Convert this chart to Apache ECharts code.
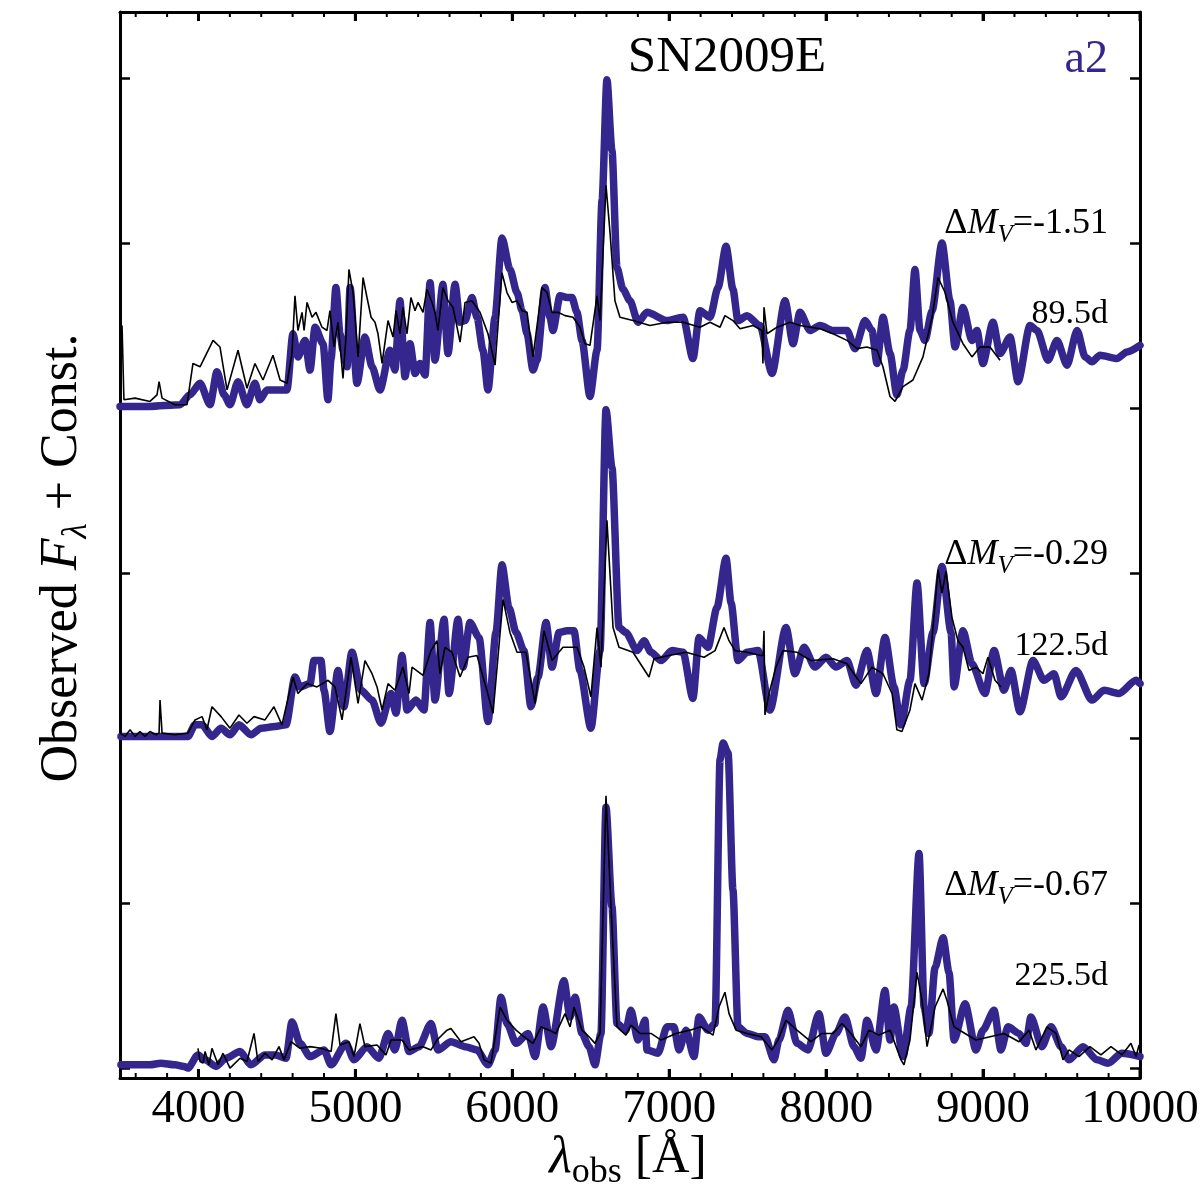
<!DOCTYPE html>
<html><head><meta charset="utf-8">
<script src="https://cdn.jsdelivr.net/npm/echarts@6/dist/echarts.min.js"></script>
<style>html,body{margin:0;padding:0;background:#fff}#c{width:1200px;height:1200px}</style>
</head><body><div id="c"></div>
<script>
// ---- tick labels / axis values ----
const xMin = 3500, xMax = 10000;
const xMajorStart = 4000, xMajorStep = 1000;   // labelled ticks 4000 ... 10000
const xMajorTicks = [4000, 5000, 6000, 7000, 8000, 9000, 10000];
const xMinorTicks = [3600, 3800, 4200, 4400, 4600, 4800, 5200, 5400, 5600, 5800, 6200, 6400, 6600, 6800,
  7200, 7400, 7600, 7800, 8200, 8400, 8600, 8800, 9200, 9400, 9600, 9800];
const yTicks = [0, 1, 2, 3, 4, 5, 6];
const yMin = -0.06, yMax = 6.4;
const offsets = [4, 2, 0];
const epochs = ['89.5d', '122.5d', '225.5d'];
const deltaMV = ['-1.51', '-0.29', '-0.67'];

// ---- spectra: [wavelength (Å), relative flux] ----
const model_89 = [[3500,0.01],[3691,0.01],[3882,0.02],[3946,0.08],[4010,0.15],[4074,0.02],[4118,0.22],[4163,0.08],[4201,0.02],[4252,0.16],[4309,0.02],[4360,0.15],[4392,0.05],[4437,0.11],[4520,0.11],[4564,0.11],[4602,0.45],[4634,0.31],[4679,0.41],[4711,0.23],[4743,0.49],[4794,0.39],[4825,0.05],[4845,0.30],[4876,0.73],[4902,0.45],[4921,0.35],[4947,0.25],[4966,0.73],[5010,0.15],[5061,0.43],[5106,0.25],[5157,0.11],[5221,0.35],[5252,0.23],[5284,0.65],[5316,0.19],[5348,0.39],[5380,0.21],[5412,0.27],[5444,0.20],[5476,0.76],[5507,0.29],[5558,0.75],[5590,0.33],[5635,0.75],[5667,0.52],[5699,0.53],[5743,0.67],[5775,0.55],[5813,0.35],[5845,0.11],[5890,0.55],[5934,1.03],[5985,0.84],[6030,0.70],[6062,0.59],[6094,0.45],[6132,0.23],[6157,0.29],[6208,0.73],[6240,0.55],[6259,0.47],[6304,0.68],[6349,0.67],[6380,0.67],[6412,0.58],[6444,0.41],[6495,0.07],[6540,0.35],[6572,1.26],[6603,1.99],[6635,1.56],[6667,0.85],[6705,0.72],[6750,0.65],[6801,0.52],[6858,0.58],[6986,0.53],[7088,0.55],[7151,0.30],[7196,0.59],[7260,0.55],[7311,0.73],[7362,0.98],[7406,0.72],[7438,0.53],[7496,0.56],[7578,0.50],[7655,0.21],[7738,0.65],[7789,0.39],[7833,0.58],[7897,0.47],[7961,0.50],[8044,0.47],[8133,0.47],[8184,0.36],[8248,0.53],[8292,0.47],[8324,0.27],[8362,0.55],[8407,0.33],[8451,0.08],[8490,0.23],[8534,0.47],[8566,0.84],[8598,0.47],[8630,0.41],[8675,0.59],[8738,1.00],[8789,0.65],[8821,0.37],[8872,0.61],[8929,0.41],[8961,0.47],[8999,0.27],[9063,0.52],[9108,0.33],[9172,0.43],[9223,0.16],[9299,0.50],[9344,0.47],[9414,0.29],[9471,0.41],[9535,0.26],[9599,0.47],[9650,0.31],[9694,0.28],[9745,0.32],[9853,0.30],[9917,0.34],[10000,0.38]];

const obs_89 = [[3500,0.05],[3513,0.50],[3525,0.05],[3596,0.06],[3691,0.04],[3736,0.08],[3749,0.16],[3768,0.06],[3850,0.02],[3927,0.02],[3965,0.27],[4010,0.25],[4093,0.41],[4137,0.37],[4182,0.11],[4252,0.35],[4309,0.12],[4360,0.27],[4411,0.17],[4475,0.32],[4520,0.17],[4564,0.15],[4596,0.33],[4615,0.68],[4634,0.47],[4660,0.58],[4673,0.47],[4692,0.64],[4724,0.55],[4749,0.58],[4787,0.49],[4819,0.47],[4838,0.59],[4864,0.37],[4889,0.52],[4921,0.18],[4940,0.43],[4959,0.84],[4985,0.70],[5017,0.31],[5049,0.79],[5074,0.67],[5100,0.55],[5125,0.52],[5144,0.45],[5170,0.27],[5208,0.53],[5240,0.43],[5259,0.59],[5284,0.45],[5303,0.61],[5329,0.45],[5354,0.67],[5380,0.59],[5399,0.64],[5431,0.58],[5456,0.72],[5488,0.64],[5507,0.58],[5526,0.47],[5558,0.73],[5590,0.65],[5622,0.61],[5667,0.40],[5699,0.64],[5743,0.65],[5794,0.58],[5845,0.45],[5890,0.26],[5934,0.82],[5966,0.70],[5998,0.64],[6030,0.65],[6062,0.59],[6094,0.58],[6132,0.31],[6189,0.73],[6221,0.70],[6253,0.58],[6291,0.58],[6336,0.56],[6387,0.55],[6431,0.49],[6463,0.39],[6495,0.38],[6540,0.68],[6559,0.53],[6597,1.35],[6623,1.06],[6654,0.65],[6686,0.55],[6769,0.53],[6877,0.50],[6986,0.52],[7088,0.52],[7196,0.49],[7260,0.52],[7324,0.49],[7355,0.56],[7406,0.53],[7451,0.48],[7534,0.50],[7591,0.47],[7597,0.27],[7604,0.61],[7623,0.45],[7687,0.49],[7770,0.52],[7833,0.50],[7961,0.48],[8044,0.45],[8133,0.41],[8197,0.36],[8260,0.37],[8324,0.35],[8362,0.25],[8407,0.07],[8439,0.04],[8490,0.13],[8553,0.17],[8617,0.31],[8675,0.55],[8713,0.79],[8758,0.70],[8808,0.52],[8872,0.39],[8929,0.31],[8980,0.37],[9044,0.37],[9108,0.29]];

const model_122 = [[3506,0.01],[3691,0.01],[3933,0.01],[3978,0.08],[4023,0.08],[4086,0.01],[4144,0.06],[4201,0.02],[4258,0.08],[4335,0.02],[4399,0.06],[4488,0.07],[4558,0.08],[4615,0.37],[4647,0.31],[4711,0.33],[4736,0.47],[4781,0.47],[4800,0.29],[4838,0.04],[4889,0.41],[4927,0.19],[4978,0.52],[5036,0.29],[5106,0.23],[5163,0.09],[5227,0.27],[5259,0.15],[5297,0.50],[5329,0.17],[5386,0.23],[5437,0.17],[5476,0.70],[5507,0.23],[5565,0.72],[5597,0.27],[5654,0.72],[5686,0.43],[5730,0.70],[5788,0.61],[5845,0.10],[5896,0.64],[5934,1.05],[5979,0.79],[6024,0.64],[6074,0.53],[6119,0.19],[6164,0.37],[6215,0.70],[6253,0.43],[6298,0.64],[6349,0.65],[6393,0.65],[6431,0.41],[6501,0.06],[6559,0.53],[6597,1.99],[6635,1.64],[6680,0.67],[6724,0.64],[6795,0.53],[6839,0.59],[6884,0.52],[6948,0.47],[7018,0.53],[7088,0.52],[7151,0.24],[7190,0.61],[7247,0.55],[7304,0.79],[7362,1.09],[7394,0.82],[7438,0.47],[7496,0.52],[7566,0.53],[7642,0.17],[7744,0.67],[7801,0.39],[7859,0.55],[7929,0.43],[7999,0.49],[8063,0.43],[8133,0.47],[8190,0.32],[8260,0.53],[8318,0.27],[8375,0.61],[8432,0.31],[8477,0.08],[8534,0.35],[8579,0.94],[8624,0.33],[8681,0.64],[8738,1.04],[8796,0.64],[8815,0.31],[8872,0.65],[8929,0.45],[9012,0.27],[9070,0.53],[9133,0.29],[9178,0.41],[9235,0.16],[9318,0.47],[9388,0.35],[9452,0.39],[9497,0.25],[9592,0.41],[9694,0.23],[9771,0.29],[9866,0.27],[9975,0.35],[10000,0.33]];

const obs_122 = [[3500,0.03],[3532,0.01],[3564,0.05],[3596,0.01],[3627,0.04],[3659,0.01],[3691,0.04],[3729,0.02],[3749,0.03],[3755,0.23],[3768,0.03],[3850,0.02],[3933,0.03],[3978,0.11],[4023,0.13],[4054,0.05],[4086,0.19],[4144,0.13],[4201,0.06],[4258,0.14],[4309,0.09],[4354,0.13],[4424,0.11],[4481,0.19],[4532,0.08],[4602,0.37],[4634,0.27],[4692,0.33],[4755,0.31],[4826,0.35],[4870,0.31],[4915,0.11],[4972,0.49],[5017,0.21],[5061,0.47],[5106,0.39],[5138,0.31],[5170,0.17],[5208,0.33],[5252,0.29],[5303,0.43],[5342,0.27],[5361,0.43],[5431,0.38],[5482,0.53],[5520,0.59],[5539,0.39],[5571,0.55],[5616,0.52],[5667,0.37],[5718,0.49],[5775,0.50],[5832,0.31],[5877,0.15],[5941,0.84],[5985,0.64],[6030,0.52],[6087,0.52],[6145,0.21],[6202,0.65],[6253,0.47],[6323,0.55],[6412,0.55],[6457,0.43],[6501,0.25],[6540,0.67],[6565,0.43],[6603,1.32],[6642,0.67],[6680,0.55],[6769,0.52],[6871,0.37],[6903,0.48],[6999,0.50],[7107,0.52],[7222,0.49],[7292,0.53],[7349,0.67],[7381,0.59],[7419,0.53],[7496,0.52],[7585,0.50],[7598,0.50],[7604,0.65],[7610,0.14],[7636,0.27],[7680,0.43],[7725,0.53],[7814,0.52],[7903,0.47],[8044,0.48],[8133,0.45],[8177,0.39],[8222,0.33],[8292,0.43],[8362,0.39],[8420,0.27],[8451,0.05],[8483,0.04],[8534,0.17],[8566,0.33],[8611,0.23],[8655,0.39],[8713,1.02],[8738,0.88],[8764,1.01],[8802,0.73],[8840,0.59],[8872,0.55],[8910,0.41],[8955,0.43],[8999,0.39],[9031,0.49],[9076,0.35],[9114,0.31]];

const model_225 = [[3506,0.02],[3691,0.02],[3760,0.03],[3850,0.02],[3908,0.01],[3933,0.00],[3997,0.08],[4042,0.05],[4112,0.01],[4175,0.06],[4265,0.10],[4335,0.02],[4424,0.08],[4488,0.08],[4558,0.06],[4596,0.28],[4647,0.15],[4711,0.07],[4800,0.11],[4845,0.02],[4940,0.15],[4991,0.05],[5074,0.13],[5150,0.06],[5208,0.21],[5252,0.11],[5297,0.29],[5342,0.10],[5405,0.13],[5482,0.27],[5526,0.11],[5609,0.16],[5699,0.13],[5775,0.11],[5845,0.02],[5890,0.11],[5928,0.43],[5966,0.27],[6024,0.15],[6100,0.21],[6145,0.07],[6196,0.37],[6247,0.13],[6329,0.53],[6368,0.31],[6400,0.43],[6444,0.21],[6489,0.13],[6527,0.02],[6565,0.21],[6597,1.58],[6635,0.98],[6667,0.27],[6724,0.23],[6756,0.35],[6801,0.17],[6846,0.29],[6858,0.11],[6928,0.09],[6986,0.25],[7030,0.25],[7062,0.11],[7107,0.23],[7158,0.07],[7190,0.31],[7247,0.23],[7292,0.27],[7324,1.87],[7343,1.97],[7375,1.91],[7406,1.08],[7438,0.25],[7496,0.21],[7566,0.19],[7610,0.19],[7668,0.05],[7699,0.17],[7757,0.35],[7814,0.15],[7884,0.11],[7954,0.33],[7999,0.09],[8063,0.21],[8120,0.31],[8177,0.13],[8222,0.06],[8260,0.29],[8318,0.11],[8375,0.47],[8407,0.17],[8432,0.37],[8490,0.07],[8541,0.37],[8592,1.30],[8624,0.37],[8655,0.21],[8694,0.61],[8745,0.79],[8783,0.58],[8815,0.17],[8885,0.39],[8955,0.11],[8999,0.23],[9070,0.35],[9114,0.11],[9159,0.25],[9229,0.21],[9273,0.15],[9305,0.31],[9375,0.13],[9433,0.25],[9497,0.13],[9548,0.05],[9637,0.13],[9726,0.05],[9796,0.03],[9885,0.09],[10000,0.07]];

const obs_225 = [[3997,0.12],[4010,0.04],[4029,0.03],[4042,0.10],[4067,0.02],[4086,0.12],[4125,0.02],[4156,0.09],[4201,0.00],[4265,0.06],[4309,0.04],[4354,0.21],[4379,0.04],[4424,0.09],[4469,0.05],[4513,0.13],[4545,0.05],[4590,0.16],[4647,0.12],[4711,0.13],[4781,0.12],[4845,0.10],[4876,0.33],[4902,0.14],[4959,0.16],[4991,0.07],[5029,0.27],[5061,0.13],[5138,0.14],[5195,0.08],[5227,0.17],[5297,0.17],[5342,0.11],[5431,0.13],[5482,0.11],[5520,0.17],[5584,0.23],[5609,0.24],[5673,0.16],[5756,0.19],[5788,0.15],[5820,0.05],[5864,0.03],[5922,0.37],[5966,0.29],[6024,0.23],[6074,0.19],[6132,0.15],[6183,0.25],[6234,0.23],[6278,0.21],[6336,0.33],[6368,0.25],[6393,0.37],[6444,0.23],[6489,0.19],[6527,0.15],[6559,0.21],[6597,1.65],[6629,0.98],[6667,0.25],[6724,0.20],[6756,0.26],[6814,0.21],[6884,0.21],[6948,0.17],[7043,0.21],[7132,0.23],[7202,0.25],[7279,0.20],[7317,0.37],[7355,0.46],[7381,0.33],[7426,0.23],[7496,0.21],[7585,0.19],[7655,0.11],[7693,0.17],[7744,0.29],[7814,0.23],[7903,0.16],[7973,0.21],[8044,0.21],[8101,0.27],[8158,0.21],[8222,0.13],[8273,0.23],[8337,0.20],[8407,0.23],[8477,0.05],[8496,0.02],[8534,0.17],[8579,0.58],[8611,0.41],[8643,0.13],[8694,0.37],[8745,0.48],[8770,0.41],[8815,0.25],[8885,0.21],[8955,0.17],[9044,0.19],[9133,0.21],[9229,0.16],[9293,0.23],[9337,0.11],[9407,0.25],[9465,0.21],[9509,0.05],[9548,0.11],[9611,0.07],[9681,0.13],[9751,0.08],[9815,0.13],[9885,0.08],[9942,0.15],[9975,0.07],[9994,0.14]];

const models = [model_89, model_122, model_225];
const observed = [obs_89, obs_122, obs_225];

// ---- styling ----
const FONT = 'Liberation Serif';
const BLUE = '#34268c';
const frame = { color: '#000', width: 3 };
const GL = 120, GR = 60, GT = 12, GB = 122;           // plot frame
const plotH = 1200 - GT - GB;
const pxPerA = (1200 - GL - GR) / (xMax - xMin);

function shift(arr, off) { return arr.map(p => [p[0], p[1] + off]); }

const series = [];
for (let k = 0; k < 3; k++) {
  series.push({
    type: 'line', name: 'model ' + epochs[k], data: shift(models[k], offsets[k]),
    xAxisIndex: 0, yAxisIndex: 0,
    showSymbol: false, symbol: 'none', smooth: 0.25, smoothMonotone: 'x',
    lineStyle: { color: BLUE, width: 7.5, join: 'round', cap: 'round' },
    z: 2, silent: true
  });
}
for (let k = 0; k < 3; k++) {
  series.push({
    type: 'line', name: 'obs ' + epochs[k], data: shift(observed[k], offsets[k]),
    xAxisIndex: 0, yAxisIndex: 0,
    showSymbol: false, symbol: 'none',
    lineStyle: { color: '#000', width: 1.6 },
    z: 3, silent: true
  });
}

const grids = [
  { left: GL, right: GR, top: GT, bottom: GB, containLabel: false, outerBoundsMode: 'none' },
  { left: GL + (xMajorStart - xMin) * pxPerA, right: GR, top: GT, bottom: GB, containLabel: false, outerBoundsMode: 'none' }
];

function frameX(pos) {
  return { type: 'value', gridIndex: 0, position: pos, min: xMin, max: xMax,
    axisLine: { show: true, onZero: false, lineStyle: frame },
    axisTick: { show: true, inside: true, length: 9, customValues: xMajorTicks, lineStyle: { color: '#000', width: 3 } },
    axisLabel: { show: false }, splitLine: { show: false } };
}
function labelX() {
  return { type: 'value', gridIndex: 1, position: 'bottom', min: xMajorStart, max: xMax, interval: xMajorStep,
    axisLine: { show: false, onZero: false }, axisTick: { show: false },
    axisLabel: { show: true, fontFamily: FONT, fontSize: 47, color: '#000', margin: 8,
      formatter: v => String(v), showMinLabel: true, showMaxLabel: true },
    splitLine: { show: false } };
}
function yAx(pos) {
  return {
    type: 'value', gridIndex: 0, position: pos, min: yMin, max: yMax,
    axisLine: { show: true, onZero: false, lineStyle: frame },
    axisTick: { show: true, inside: true, length: 10, customValues: yTicks,
      lineStyle: { color: '#000', width: 2.5 } },
    axisLabel: { show: false }, splitLine: { show: false }
  };
}
function hiddenY(grid) { return { type: 'value', gridIndex: grid, show: false, min: 0, max: 1 }; }

const richLbl = {
  n: { fontFamily: FONT, fontSize: 36, lineHeight: 48, verticalAlign: 'middle', color: '#000' },
  i: { fontFamily: FONT, fontSize: 36, fontStyle: 'italic', lineHeight: 48, verticalAlign: 'middle', color: '#000' },
  s: { fontFamily: FONT, fontSize: 25, fontStyle: 'italic', lineHeight: 25, verticalAlign: 'bottom', color: '#000' }
};
const dmBase = [236, 567, 898];
const dayBase = [325, 657, 987];
const graphics = [];
for (let k = 0; k < 3; k++) {
  graphics.push({ type: 'text', x: 1108, y: dmBase[k] - 36, z: 10,
    style: { text: '{n|Δ}{i|M}{s|V}{n|=' + deltaMV[k] + '}', rich: richLbl, align: 'right', verticalAlign: 'top' } });
  graphics.push({ type: 'text', x: 1108, y: dayBase[k] - 11, z: 10,
    style: { text: epochs[k], fontFamily: FONT, fontSize: 34, fill: '#000', align: 'right', verticalAlign: 'middle' } });
}
graphics.push({ type: 'text', x: 727, y: 58, z: 10,
  style: { text: 'SN2009E', fontFamily: FONT, fontSize: 51, fill: '#000', align: 'center', verticalAlign: 'middle' } });
graphics.push({ type: 'text', x: 1108, y: 60, z: 10,
  style: { text: 'a2', fontFamily: FONT, fontSize: 46, fill: BLUE, align: 'right', verticalAlign: 'middle' } });
graphics.push({ type: 'text', x: 628, y: 1125, z: 10,
  style: { text: '{i|λ}{s|obs}{n| [Å]}', align: 'center', verticalAlign: 'top', rich: {
    n: { fontFamily: FONT, fontSize: 52, lineHeight: 66, verticalAlign: 'middle', color: '#000' },
    i: { fontFamily: FONT, fontSize: 52, fontStyle: 'italic', lineHeight: 66, verticalAlign: 'middle', color: '#000' },
    s: { fontFamily: FONT, fontSize: 36, lineHeight: 36, verticalAlign: 'bottom', color: '#000' } } } });
graphics.push({ type: 'text', x: 62, y: 558, rotation: Math.PI / 2, z: 10,
  style: { text: '{n|Observed }{i|F}{s|λ}{n| + Const.}', align: 'center', verticalAlign: 'middle', rich: {
    n: { fontFamily: FONT, fontSize: 52, lineHeight: 64, verticalAlign: 'middle', color: '#000' },
    i: { fontFamily: FONT, fontSize: 52, fontStyle: 'italic', lineHeight: 64, verticalAlign: 'middle', color: '#000' },
    s: { fontFamily: FONT, fontSize: 35, fontStyle: 'italic', lineHeight: 35, verticalAlign: 'bottom', color: '#000' } } } });

// x-axis tick marks (inward, on bottom and top frame edges) as filled rectangles
const yBotPx = 1200 - GB, yTopPx = GT;
function addTickRects(values, len, w) {
  values.forEach(v => {
    const px = GL + (v - xMin) * pxPerA;
    graphics.push({ type: 'rect', z: 30, silent: true, shape: { x: px - w / 2, y: yBotPx - len, width: w, height: len },
      style: { fill: '#000' } });
    graphics.push({ type: 'rect', z: 30, silent: true, shape: { x: px - w / 2, y: yTopPx, width: w, height: len },
      style: { fill: '#000' } });
  });
}
addTickRects(xMajorTicks, 9, 3);
addTickRects(xMinorTicks, 5, 2);

const chart = echarts.init(document.getElementById('c'), null, { renderer: 'canvas' });
chart.setOption({
  animation: false,
  backgroundColor: '#fff',
  grid: grids,
  xAxis: [frameX('bottom'), frameX('top'), labelX()],
  yAxis: [yAx('left'), yAx('right'), hiddenY(1)],
  series: series,
  graphic: graphics
});
</script>
</body></html>
